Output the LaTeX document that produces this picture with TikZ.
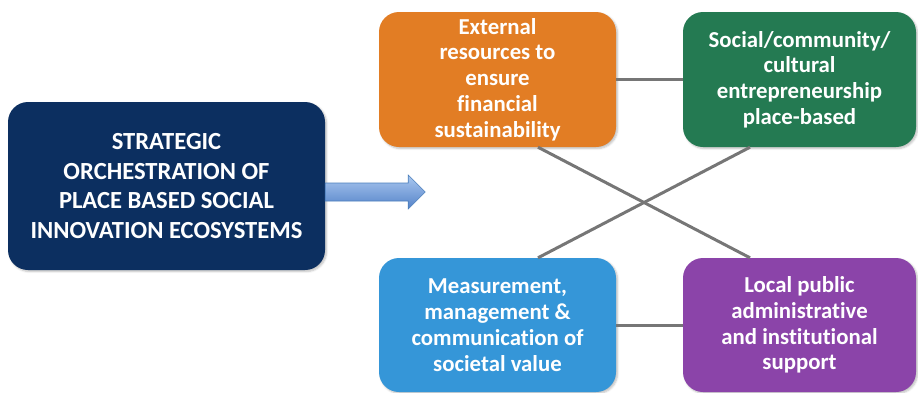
\documentclass[tikz,border=0pt]{standalone}
\usepackage{fontspec}
\setmainfont{Carlito}[Ligatures=NoCommon]
\usetikzlibrary{calc,shadows.blur}
\definecolor{navy}{RGB}{12,47,96}
\definecolor{orng}{RGB}{226,125,36}
\definecolor{grn}{RGB}{36,122,82}
\definecolor{lblue}{RGB}{53,150,216}
\definecolor{purp}{RGB}{139,68,169}
\definecolor{linkgray}{RGB}{118,118,118}
\definecolor{arrtop}{RGB}{170,200,240}
\definecolor{arrbot}{RGB}{84,130,200}
\definecolor{arredge}{RGB}{74,126,187}
\tikzset{
  box/.style={rounded corners=20pt, text=white, align=center, inner sep=0pt,
    font=\bfseries\fontsize{22.8}{25.8}\selectfont,
    blur shadow={shadow xshift=1.5pt, shadow yshift=-1.5pt, shadow blur steps=5, shadow opacity=25}},
  link/.style={draw=linkgray, line width=3pt}
}
\begin{document}
\begin{tikzpicture}[x=1pt,y=-1pt]
\useasboundingbox (0,0) rectangle (918,392);
\node[box, fill=navy, minimum width=317pt, minimum height=168pt,
  font=\bfseries\fontsize{24.6}{29.5}\selectfont] (main) at (166.5,186)
  {STRATEGIC\\ORCHESTRATION OF\\PLACE BASED SOCIAL\\INNOVATION ECOSYSTEMS};
\node[box, fill=orng, minimum width=237pt, minimum height=135pt] (ext) at (497.5,79.5)
  {External\\resources to\\ensure\\financial\\sustainability};
\node[box, fill=grn, minimum width=233pt, minimum height=135pt] (soc) at (799.5,79.5)
  {Social/community/\\cultural\\entrepreneurship\\place-based};
\node[box, fill=lblue, minimum width=237pt, minimum height=134pt] (meas) at (497.5,325)
  {Measurement,\\management \&\\communication of\\societal value};
\node[box, fill=purp, minimum width=233pt, minimum height=134pt] (loc) at (799.5,325)
  {Local public\\administrative\\and institutional\\support};
% connectors
\draw[link] (ext.east) -- (soc.west);
\draw[link] (meas.east) -- (loc.west);
\draw[link] ([xshift=40.5pt]ext.south) -- ([xshift=-49.5pt]loc.north);
\draw[link] ([xshift=-49.5pt]soc.south) -- ([xshift=40.5pt]meas.north);
% block arrow
\coordinate (a0) at ([yshift=-6pt]main.east);
\path[top color=arrtop, bottom color=arrbot, draw=arredge, line width=0.6pt]
  ($(a0)+(0,-9)$) -- ++(83,0) -- ++(0,-8) -- ++(17,17) -- ++(-17,17) -- ++(0,-8) -- ++(-83,0) -- cycle;
\end{tikzpicture}
\end{document}
